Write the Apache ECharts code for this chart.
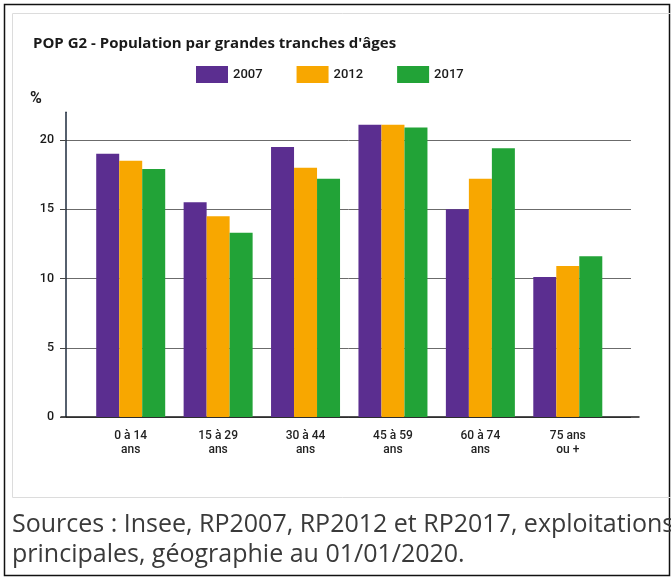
<!DOCTYPE html>
<html>
<head>
<meta charset="utf-8">
<title>POP G2</title>
<script src="https://cdn.jsdelivr.net/npm/echarts@6/dist/echarts.min.js"></script>
<style>
    html, body { margin: 0; padding: 0; background: #fff; }
    #chart { width: 671px; height: 577px; }
</style>
</head>
<body>
<div id="chart"></div>
<script>
// tranches d'âges
var categories = ['0 à 14\nans', '15 à 29\nans', '30 à 44\nans', '45 à 59\nans', '60 à 74\nans', '75 ans\nou +'];
var years = ['2007', '2012', '2017'];
var values2007 = [19.0, 15.5, 19.5, 21.1, 15.0, 10.1];
var values2012 = [18.5, 14.5, 18.0, 21.1, 17.2, 10.9];
var values2017 = [17.9, 13.3, 17.2, 20.9, 19.4, 11.6];
var yTicks = [0, 5, 10, 15, 20];

var colors = ['#5b2e90', '#f8a700', '#22a337'];
var font = 'Roboto, "DejaVu Sans", sans-serif';

var myChart = echarts.init(document.getElementById('chart'));

var option = {
    animation: false,
    color: colors,
    textStyle: { fontFamily: font },
    title: {
        text: 'POP G2 - Population par grandes tranches d\'âges',
        left: 28,
        top: 31,
        textStyle: { fontSize: 15, fontWeight: 'bold', color: '#1a1a1a', fontFamily: '"Open Sans", sans-serif' }
    },
    legend: {
        data: years,
        left: 191,
        top: 61,
        itemWidth: 32,
        itemHeight: 17,
        itemGap: 34,
        icon: 'rect',
        textStyle: { fontSize: 13, fontWeight: 500, color: '#1a1a1a' }
    },
    graphic: [
        {
            type: 'rect',
            shape: { x: 4.5, y: 4.5, width: 665, height: 571 },
            style: { fill: 'none', stroke: '#111', lineWidth: 1.5 },
            silent: true
        },
        {
            type: 'rect',
            shape: { x: 12.5, y: 13.5, width: 670, height: 484 },
            style: { fill: 'none', stroke: '#dcdcdc', lineWidth: 1 },
            silent: true
        },
        {
            type: 'text',
            left: 30,
            top: 91,
            style: { text: '%', fill: '#1a1a1a', font: 'bold 16px ' + font }
        },
        {
            type: 'text',
            left: 12,
            top: 510,
            style: {
                text: 'Sources : Insee, RP2007, RP2012 et RP2017, exploitations\nprincipales, géographie au 01/01/2020.',
                font: '25px "Open Sans", sans-serif',
                lineHeight: 30,
                fill: '#3a3a3a'
            }
        }
    ],
    grid: [
        // grille + graduations
        { left: 66, width: 565, top: 140, height: 277 },
        // barres
        { left: 87, width: 524.5, top: 112.3, height: 304.7 },
        // ligne de l'axe des x
        { left: 61, width: 578, top: 112.3, height: 304.7 }
    ],
    xAxis: [
        { gridIndex: 0, type: 'value', show: false },
        {
            gridIndex: 1,
            type: 'category',
            data: categories,
            axisLine: { show: false },
            axisTick: { show: false },
            axisLabel: { fontSize: 12, fontWeight: 500, color: '#222', margin: 12, lineHeight: 14 }
        },
        {
            gridIndex: 2,
            type: 'value',
            axisLine: { show: true, onZero: false, lineStyle: { color: '#1a1a1a', width: 1.5 } },
            axisTick: { show: false },
            axisLabel: { show: false },
            splitLine: { show: false }
        }
    ],
    yAxis: [
        {
            gridIndex: 0,
            type: 'value',
            min: yTicks[0],
            max: yTicks[yTicks.length - 1],
            interval: 5,
            axisLine: { show: false },
            axisTick: { show: true, length: 6, lineStyle: { color: '#444' } },
            axisLabel: { fontSize: 12.5, fontWeight: 500, color: '#1a1a1a', margin: 12 },
            splitLine: { show: true, lineStyle: { color: '#6b6b6b', width: 1 } }
        },
        {
            gridIndex: 1,
            type: 'value',
            min: 0,
            max: 22,
            offset: 21,
            axisLine: { show: true, onZero: false, lineStyle: { color: '#1e2b3c', width: 1.5 } },
            axisTick: { show: false },
            axisLabel: { show: false },
            splitLine: { show: false }
        },
        { gridIndex: 2, type: 'value', min: 0, max: 22, show: false }
    ],
    series: [
        { name: years[0], type: 'bar', xAxisIndex: 1, yAxisIndex: 1, barWidth: 23, barGap: '0%', data: values2007 },
        { name: years[1], type: 'bar', xAxisIndex: 1, yAxisIndex: 1, barWidth: 23, barGap: '0%', data: values2012 },
        { name: years[2], type: 'bar', xAxisIndex: 1, yAxisIndex: 1, barWidth: 23, barGap: '0%', data: values2017 }
    ]
};

option && myChart.setOption(option);
</script>
</body>
</html>
